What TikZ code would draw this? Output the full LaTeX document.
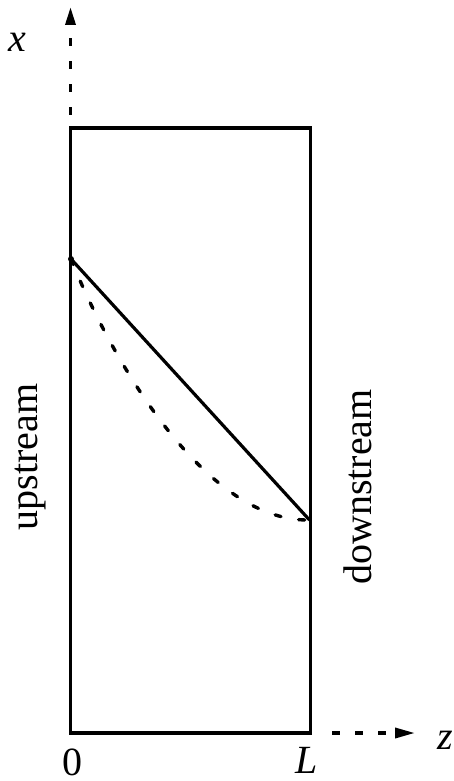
\documentclass[tikz,border=0pt]{standalone}
\usepackage{fontspec}
\setmainfont{Liberation Serif}
\usetikzlibrary{arrows.meta}
\begin{document}
\begin{tikzpicture}[x=1pt,y=-1pt,
  frame/.style={line width=3.2pt},
  axisline/.style={line width=3.4pt,dash pattern=on 8pt off 15pt},
  lbl/.style={inner sep=0pt,font=\fontsize{40}{48}\selectfont},
  curvedash/.style={line width=3.4pt,line cap=round,dash pattern=on 6pt off 18pt}]
\useasboundingbox (0,0) rectangle (454,781);
% box corners
\coordinate (bl) at (70.5,733);
\coordinate (tr) at (310.5,128);
\draw[frame] (bl) rectangle (tr);
% axes
\coordinate (xs) at (70.5,115);
\coordinate (xe) at (70.5,7);
\coordinate (zs) at (332,733);
\coordinate (ze) at (415,733);
\draw[axisline,-{Triangle[length=18pt,width=10pt]}] (xs) -- (xe);
\draw[axisline,-{Triangle[length=20pt,width=10pt]}] (zs) -- (ze);
% profiles
\coordinate (p0) at (71,259);
\coordinate (p3) at (309.5,520);
\fill (p0) circle (3pt);
\draw[line width=3.2pt] (p0) -- (p3);
\draw[curvedash] (p0) .. controls (105,345) and (200,522) .. (p3);
% labels
\node[lbl] (xl) at (17,42) {\textit{x}};
\node[lbl] (zl) at (445,740) {\textit{z}};
\node[lbl] (zero) at (72,762) {0};
\node[lbl] (Ll) at (307,760) {\textit{L}};
\node[lbl,rotate=90] (up) at (30,457) {upstream};
\node[lbl,rotate=90] (down) at (358,487) {downstream};
\end{tikzpicture}
\end{document}
